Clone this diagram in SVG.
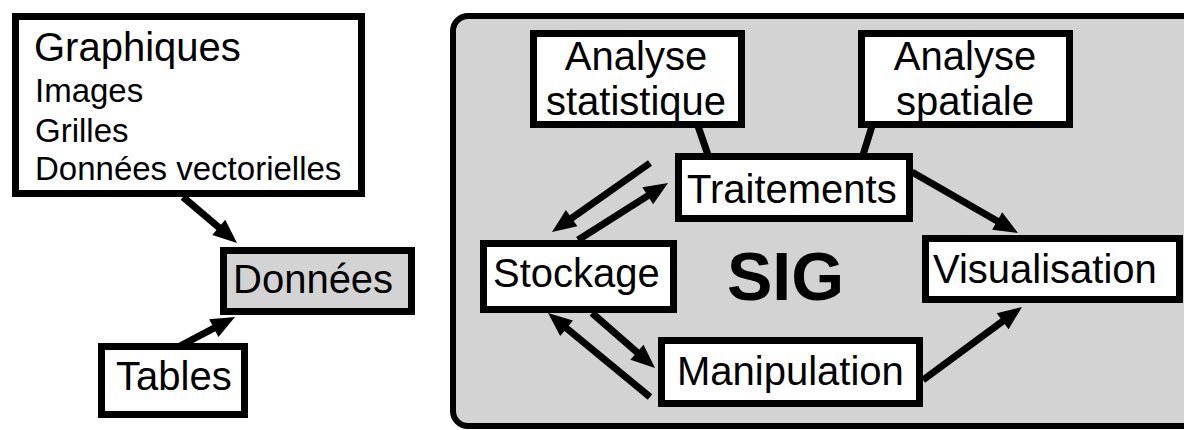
<svg xmlns="http://www.w3.org/2000/svg" width="1184" height="430" viewBox="0 0 1184 430">
<style>
.box{fill:#ffffff;stroke:#000000;stroke-width:7}
.gbox{fill:#d3d3d3;stroke:#000000;stroke-width:7}
.t{font-family:"Liberation Sans",Arial,sans-serif;font-size:40px;fill:#000000}
.s{font-family:"Liberation Sans",Arial,sans-serif;font-size:33px;fill:#000000}
.b{font-family:"Liberation Sans",Arial,sans-serif;font-size:68px;font-weight:bold;fill:#000000}
.c{stroke:#000000;stroke-width:7;fill:none}
.a{stroke:#000000;stroke-width:7;fill:none;marker-end:url(#ah)}
</style>
<defs>
<marker id="ah" markerUnits="userSpaceOnUse" markerWidth="26" markerHeight="20" refX="12" refY="10" orient="auto" overflow="visible">
<path d="M0,0 L24,10 L0,20 z" fill="#000000"/>
</marker>
</defs>
<rect width="1184" height="430" fill="#ffffff"/>
<g id="sig">
<rect x="453" y="16" width="745" height="410" rx="15" ry="15" fill="#d3d3d3" stroke="#000000" stroke-width="6"/>
<text class="b" x="727" y="300">SIG</text>
</g>
<g id="connectors">
<line class="a" x1="183" y1="197" x2="227.9" y2="235.2"/>
<line class="a" x1="180" y1="346" x2="224.4" y2="322.6"/>
<line class="c" x1="698" y1="126" x2="708" y2="155"/>
<line class="c" x1="872" y1="126" x2="863" y2="155"/>
<line class="a" x1="912" y1="172" x2="1007.6" y2="227.0"/>
<line class="a" x1="923" y1="380" x2="1012.3" y2="314.1"/>
<line class="a" x1="650" y1="163" x2="561.8" y2="225.1"/>
<line class="a" x1="578" y1="240" x2="657.9" y2="189.4"/>
<line class="a" x1="592" y1="313" x2="646.0" y2="360.1"/>
<line class="a" x1="650" y1="397" x2="557.3" y2="320.6"/>
</g>
<g id="graphiques">
<rect class="box" x="15.5" y="16.5" width="346" height="177"/>
<text class="t" x="34" y="61">Graphiques</text>
<text class="s" x="35" y="102">Images</text>
<text class="s" x="35" y="142">Grilles</text>
<text class="s" x="35" y="180">Données vectorielles</text>
</g>
<g id="donnees">
<rect class="gbox" x="223.5" y="250.5" width="188" height="61"/>
<text class="t" x="233" y="293">Données</text>
</g>
<g id="tables">
<rect class="box" x="101.5" y="346.5" width="143" height="68"/>
<text class="t" x="116" y="390">Tables</text>
</g>
<g id="analyse-statistique">
<rect class="box" x="533.5" y="33.5" width="208" height="91"/>
<text class="t" x="636" y="70" text-anchor="middle">Analyse</text>
<text class="t" x="636" y="115" text-anchor="middle">statistique</text>
</g>
<g id="analyse-spatiale">
<rect class="box" x="861.5" y="33.5" width="208" height="91"/>
<text class="t" x="965" y="70" text-anchor="middle">Analyse</text>
<text class="t" x="965" y="115" text-anchor="middle">spatiale</text>
</g>
<g id="traitements">
<rect class="box" x="678.5" y="156.5" width="231" height="62"/>
<text class="t" x="687" y="203">Traitements</text>
</g>
<g id="stockage">
<rect class="box" x="483.5" y="243.5" width="190" height="66"/>
<text class="t" x="493" y="287">Stockage</text>
</g>
<g id="manipulation">
<rect class="box" x="661.5" y="340.5" width="258" height="63"/>
<text class="t" x="677" y="385">Manipulation</text>
</g>
<g id="visualisation">
<rect class="box" x="925.5" y="238.5" width="254" height="61"/>
<text class="t" x="933" y="283">Visualisation</text>
</g>
</svg>
